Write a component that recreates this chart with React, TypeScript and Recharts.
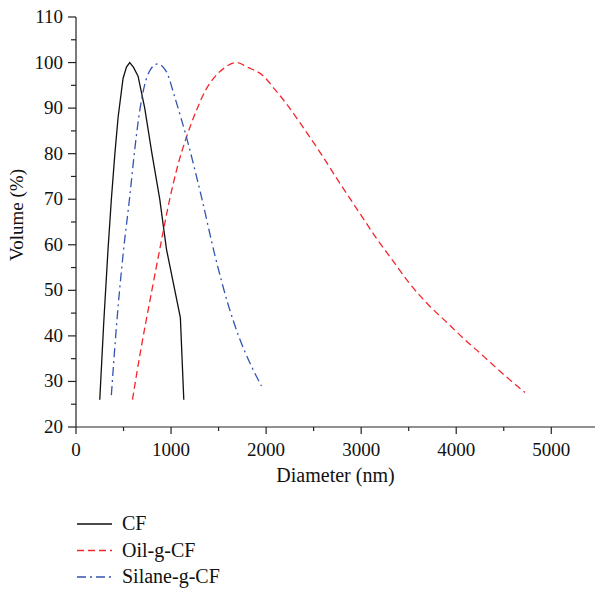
import { LineChart, Line, XAxis, YAxis } from 'recharts';

// particle size distributions
const cfDiameter = [250, 292, 337, 372, 409, 443, 495, 531, 565, 604, 653, 723, 799, 881, 952, 1098, 1134];
const cfVolume = [26, 43, 59, 70, 80, 88, 96.5, 99, 100, 99, 97, 90, 80, 70, 59, 44, 26];

const oilDiameter = [594, 682, 780, 881, 986, 1072, 1162, 1267, 1365, 1442, 1560, 1688, 1803, 1968, 2096, 2215, 2372, 2583, 2776, 2973, 3162, 3333, 3494, 3704, 3899, 4074, 4289, 4484, 4723];
const oilVolume = [26, 37, 48, 59, 70, 77.5, 83.6, 89.5, 94, 96.4, 98.8, 100, 99, 97.1, 94, 90.9, 86.3, 79.8, 73.5, 67.3, 61.4, 56.5, 51.9, 46.9, 43, 39.5, 35.5, 31.8, 27.6];

const silaneDiameter = [372, 429, 495, 565, 624, 671, 721, 776, 858, 951, 1039, 1162, 1320, 1460, 1599, 1723, 1842, 1951];
const silaneVolume = [27, 43, 57.8, 70.5, 82, 89.5, 95, 98.2, 99.7, 98, 92.4, 83.6, 70.5, 57.8, 47, 39.3, 33.5, 29];

const xTicks = [0, 500, 1000, 1500, 2000, 2500, 3000, 3500, 4000, 4500, 5000];
const yTicks = [20, 25, 30, 35, 40, 45, 50, 55, 60, 65, 70, 75, 80, 85, 90, 95, 100, 105, 110];

const toPoints = (xs: number[], ys: number[]) => xs.map((x, i) => ({ x, y: ys[i] }));

const series = [
  { name: 'CF', data: toPoints(cfDiameter, cfVolume), color: '#111111', dash: undefined, type: 'linear' },
  { name: 'Oil-g-CF', data: toPoints(oilDiameter, oilVolume), color: '#f2262b', dash: '7 4', type: 'monotone' },
  { name: 'Silane-g-CF', data: toPoints(silaneDiameter, silaneVolume), color: '#3353b0', dash: '9 4 2 4', type: 'monotone' },
] as const;

const FONT = '"Liberation Serif", "Times New Roman", serif';

function XTick(props: any) {
  const { x, y, payload } = props;
  const major = payload.value % 1000 === 0;
  return (
    <g>
      <line x1={x} x2={x} y1={y} y2={y + (major ? 7 : 4)} stroke="#222" strokeWidth={1.2} />
      {major && (
        <text x={x} y={y + 29} textAnchor="middle" fontSize={19} fontFamily={FONT} fill="#111">
          {payload.value}
        </text>
      )}
    </g>
  );
}

function YTick(props: any) {
  const { x, y, payload } = props;
  const major = payload.value % 10 === 0;
  return (
    <g>
      <line x1={x - (major ? 8 : 5)} x2={x} y1={y} y2={y} stroke="#222" strokeWidth={1.2} />
      {major && (
        <text x={x - 13} y={y + 6} textAnchor="end" fontSize={19} fontFamily={FONT} fill="#111">
          {payload.value}
        </text>
      )}
    </g>
  );
}

function YLabel(props: any) {
  const { viewBox } = props;
  const cx = viewBox.x + 23;
  const cy = viewBox.y + viewBox.height / 2 - 7;
  return (
    <text transform={`translate(${cx},${cy}) rotate(-90)`} textAnchor="middle" fontSize={19} fontFamily={FONT} fill="#111">
      Volume (%)
    </text>
  );
}

export default function App() {
  return (
    <div style={{ position: 'absolute', left: 0, top: 0, width: 595, height: 589, background: '#fff' }}>
      <LineChart width={595} height={500} margin={{ top: 17, right: 0, bottom: 0, left: 0 }}>
        <XAxis
          type="number"
          dataKey="x"
          domain={[0, 5460]}
          ticks={xTicks}
          interval={0}
          tick={<XTick />}
          tickLine={false}
          tickSize={0}
          tickMargin={0}
          height={73}
          axisLine={{ stroke: '#222', strokeWidth: 1.2 }}
          allowDataOverflow
          label={{ value: 'Diameter (nm)', position: 'insideBottom', offset: 18, fontSize: 20, fontFamily: FONT, fill: '#111' }}
        />
        <YAxis
          type="number"
          domain={[20, 110]}
          ticks={yTicks}
          interval={0}
          tick={<YTick />}
          tickLine={false}
          tickSize={0}
          tickMargin={0}
          width={76}
          axisLine={{ stroke: '#222', strokeWidth: 1.2 }}
          label={{ content: <YLabel /> }}
        />
        {series.map((s) => (
          <Line
            key={s.name}
            data={s.data as any}
            dataKey="y"
            name={s.name}
            type={s.type as any}
            stroke={s.color}
            strokeWidth={1.3}
            strokeDasharray={s.dash}
            dot={false}
            activeDot={false}
            isAnimationActive={false}
          />
        ))}
      </LineChart>
      <svg width={595} height={89} style={{ position: 'absolute', left: 0, top: 500 }}>
        {series.map((s, i) => {
          const cy = 24 + i * 26.5;
          return (
            <g key={s.name}>
              <line x1={77} x2={112} y1={cy} y2={cy} stroke={s.color} strokeWidth={1.3} strokeDasharray={s.dash} />
              <text x={122} y={cy + 6} fontSize={20} fontFamily={FONT} fill="#111">
                {s.name}
              </text>
            </g>
          );
        })}
      </svg>
    </div>
  );
}
